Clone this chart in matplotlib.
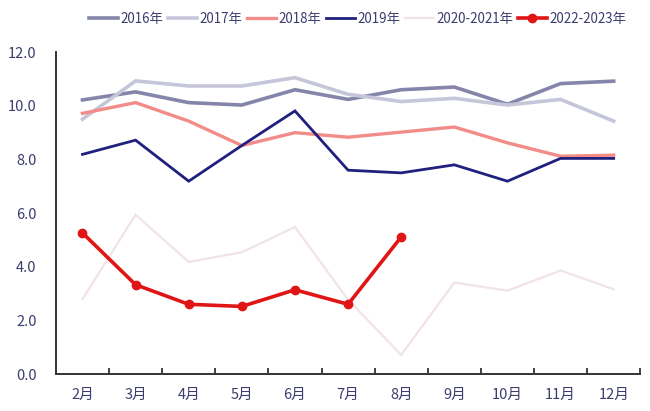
import matplotlib
matplotlib.use("Agg")
import matplotlib.pyplot as plt
from matplotlib.ticker import FixedLocator

plt.rcParams['font.family'] = ['Noto Sans CJK SC', 'DejaVu Sans']

months = ["2月", "3月", "4月", "5月", "6月", "7月", "8月", "9月", "10月", "11月", "12月"]

y2016 = [10.22, 10.52, 10.12, 10.03, 10.60, 10.24, 10.60, 10.70, 10.06, 10.83, 10.92]
y2017 = [9.50, 10.93, 10.74, 10.74, 11.05, 10.43, 10.16, 10.28, 10.03, 10.24, 9.43]
y2018 = [9.72, 10.12, 9.43, 8.52, 9.00, 8.83, 9.02, 9.21, 8.62, 8.12, 8.16]
y2019 = [8.19, 8.72, 7.19, 8.52, 9.81, 7.60, 7.50, 7.80, 7.19, 8.04, 8.04]
y2020_2021 = [2.79, 5.94, 4.18, 4.54, 5.48, 2.77, 0.71, 3.41, 3.11, 3.86, 3.16]
y2022_2023 = [5.26, 3.33, 2.60, 2.52, 3.14, 2.60, 5.11]

labels = ["2016年", "2017年", "2018年", "2019年", "2020-2021年", "2022-2023年"]
colors = ["#8585ab", "#c6c6da", "#f28c88", "#20207e", "#f1e3e8", "#e01515"]

fig = plt.figure(figsize=(6.5, 4.11), dpi=100)
ax = fig.add_axes([0.086, 0.09, 0.899, 0.783])

x = list(range(len(months)))
series = [y2016, y2017, y2018, y2019, y2020_2021]
widths = [2.6, 2.6, 2.4, 2.0, 1.6]
for vals, lab, col, lw in zip(series, labels[:5], colors[:5], widths):
    ax.plot(x[:len(vals)], vals, color=col, lw=lw, label=lab, solid_joinstyle='miter')

ax.plot(x[:len(y2022_2023)], y2022_2023, color=colors[5], lw=2.6, marker='o',
        markersize=6, label=labels[5])

ax.set_xlim(-0.5, len(months) - 0.5)
ax.set_ylim(0, 12)

ax.set_xticks(x)
ax.set_xticklabels(months)
ax.xaxis.set_minor_locator(FixedLocator([i + 0.5 for i in range(len(months))]))
ax.tick_params(axis='x', which='major', length=0, pad=10, labelsize=10.5, labelcolor="#3c3c6e")
ax.tick_params(axis='x', which='minor', direction='in', length=4, width=1.3, color="#333333")

ax.set_yticks([0, 2, 4, 6, 8, 10, 12])
ax.set_yticklabels([f"{v:.1f}" for v in [0, 2, 4, 6, 8, 10, 12]])
ax.yaxis.set_minor_locator(FixedLocator([12]))
ax.tick_params(axis='y', which='major', length=0, pad=14, labelsize=10.5, labelcolor="#3c3c6e")
ax.tick_params(axis='y', which='minor', direction='in', length=4, width=1.3, color="#333333")

for side in ['top', 'right']:
    ax.spines[side].set_visible(False)
for side in ['left', 'bottom']:
    ax.spines[side].set_color("#333333")
    ax.spines[side].set_linewidth(1.4)

leg = fig.legend(loc='upper center', bbox_to_anchor=(0.55, 1.0), ncol=6, frameon=False,
                 fontsize=9.6, handlelength=2.2, handletextpad=0.15, columnspacing=0.35,
                 labelcolor="#3c3c6e")

fig.savefig("out.png", dpi=100)
